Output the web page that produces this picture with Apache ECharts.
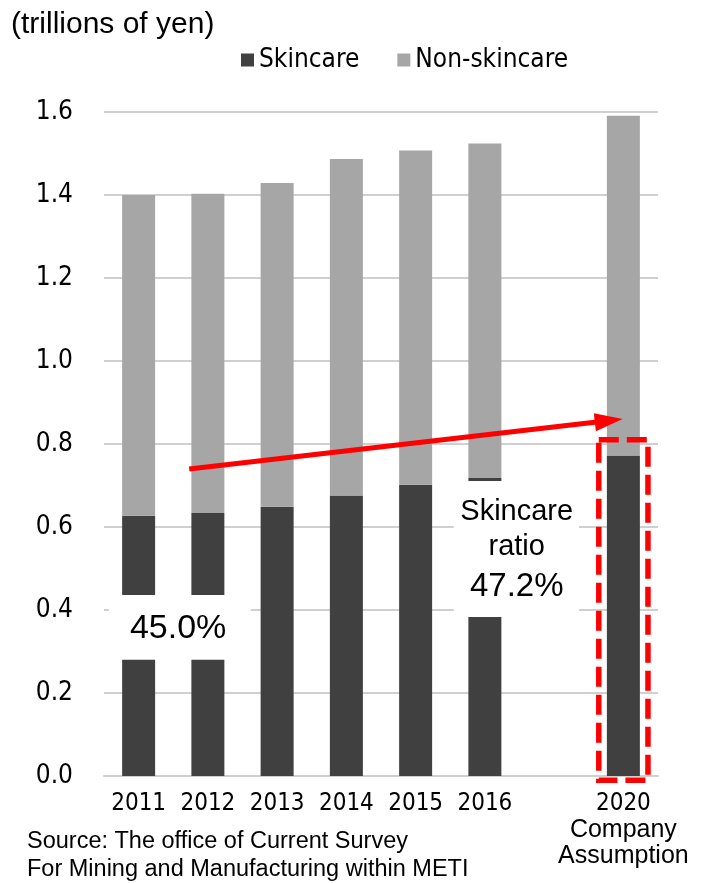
<!DOCTYPE html>
<html>
<head>
<meta charset="utf-8">
<script src="https://cdn.jsdelivr.net/npm/echarts@6/dist/echarts.min.js"></script>
<style>
  html, body { margin: 0; padding: 0; background: #fff; }
  #main { width: 701px; height: 883px; }
</style>
</head>
<body>
<div id="main"></div>
<script>
// data (trillions of yen)
var years = ['2011', '2012', '2013', '2014', '2015', '2016', '', '2020']
var skincare = [0.627, 0.634, 0.649, 0.676, 0.702, 0.718, null, 0.772]
var nonSkincare = [0.773, 0.769, 0.780, 0.811, 0.805, 0.806, null, 0.819]
var yTicks = [0, 0.2, 0.4, 0.6, 0.8, 1.0, 1.2, 1.4, 1.6]

var narrow = "'Liberation Sans Narrow', 'DejaVu Sans Condensed', sans-serif"
var arial = "'Liberation Sans', Arial, sans-serif"

var chart = echarts.init(document.getElementById('main'))

chart.setOption({
  animation: false,
  backgroundColor: '#fff',
  title: {
    text: '(trillions of yen)',
    left: 6,
    top: 5,
    textStyle: { fontFamily: arial, fontSize: 30, fontWeight: 'normal', color: '#000' }
  },
  legend: {
    left: 236,
    top: 42,
    itemWidth: 13,
    itemHeight: 13,
    itemGap: 38,
    icon: 'rect',
    textStyle: { fontFamily: narrow, fontSize: 26, color: '#000' },
    data: ['Skincare', 'Non-skincare']
  },
  grid: { left: 104, right: 43, top: 112, bottom: 107 },
  xAxis: {
    type: 'category',
    data: years,
    axisLine: { lineStyle: { color: '#d0d0d0', width: 2 } },
    axisTick: { show: false },
    axisLabel: {
      margin: 15,
      interval: 0,
      formatter: function (v) {
        if (v === '2020') return '{y|2020}\n{c|Company}\n{c|Assumption}'
        return '{y|' + v + '}'
      },
      rich: {
        y: { fontFamily: narrow, fontSize: 24, lineHeight: 26, color: '#000' },
        c: { fontFamily: arial, fontSize: 25, lineHeight: 26, color: '#000' }
      }
    }
  },
  yAxis: {
    type: 'value',
    min: yTicks[0],
    max: yTicks[yTicks.length - 1],
    interval: 0.2,
    axisLine: { show: false },
    axisTick: { show: false },
    splitLine: { lineStyle: { color: '#d0d0d0', width: 2 } },
    axisLabel: {
      margin: 31,
      fontFamily: narrow,
      fontSize: 26,
      color: '#000',
      formatter: function (v) { return v.toFixed(1) }
    }
  },
  series: [
    {
      name: 'Skincare',
      type: 'bar',
      stack: 'total',
      barWidth: 33,
      itemStyle: { color: '#404040' },
      data: skincare
    },
    {
      name: 'Non-skincare',
      type: 'bar',
      stack: 'total',
      barWidth: 33,
      itemStyle: { color: '#a6a6a6' },
      data: nonSkincare
    }
  ]
})

// 注释: white label boxes, arrow and dashed frame, placed in data units
function pt (c, v) {
  var i = Math.floor(c)
  var a = chart.convertToPixel({ seriesIndex: 0 }, [i, v])
  var b = chart.convertToPixel({ seriesIndex: 0 }, [i + 1, v])
  return [a[0] + (b[0] - a[0]) * (c - i), a[1]]
}

function box (c0, v0, c1, v1) {
  var p0 = pt(c0, v0)
  var p1 = pt(c1, v1)
  return {
    type: 'rect',
    z: 100,
    shape: { x: p0[0], y: p0[1], width: p1[0] - p0[0], height: p1[1] - p0[1] },
    style: { fill: '#fff' }
  }
}

function label (c, v, text, size) {
  var p = pt(c, v)
  return {
    type: 'text',
    z: 101,
    x: p[0],
    y: p[1],
    style: {
      text: text,
      fill: '#000',
      font: size + 'px ' + arial,
      align: 'center',
      verticalAlign: 'middle'
    }
  }
}

var start = pt(0.73, 0.740)
var tip = pt(6.99, 0.860)
var dx = tip[0] - start[0]
var dy = tip[1] - start[1]
var len = Math.sqrt(dx * dx + dy * dy)
var ux = dx / len
var uy = dy / len
var headLen = 28
var headHalf = 9
var base = [tip[0] - ux * headLen, tip[1] - uy * headLen]

var f0 = pt(6.645, 0.81)
var f1 = pt(7.355, -0.01)

chart.setOption({
  graphic: [
    box(-0.43, 0.436, 1.62, 0.280),
    label(0.57, 0.354, '45.0%', 34),
    box(4.55, 0.711, 6.36, 0.383),
    label(5.46, 0.636, 'Skincare', 29),
    label(5.46, 0.551, 'ratio', 29),
    label(5.46, 0.455, '47.2%', 33),
    {
      type: 'line',
      z: 102,
      shape: { x1: start[0], y1: start[1], x2: base[0] + ux * 2, y2: base[1] + uy * 2 },
      style: { stroke: '#ff0000', lineWidth: 5 }
    },
    {
      type: 'polygon',
      z: 102,
      shape: {
        points: [
          tip,
          [base[0] - uy * headHalf, base[1] + ux * headHalf],
          [base[0] + uy * headHalf, base[1] - ux * headHalf]
        ]
      },
      style: { fill: '#ff0000' }
    },
    {
      type: 'rect',
      z: 102,
      shape: { x: f0[0], y: f0[1], width: f1[0] - f0[0], height: f1[1] - f0[1] },
      style: { fill: 'none', stroke: '#ff0000', lineWidth: 5.5, lineDash: [20, 8] }
    },
    {
      type: 'text',
      z: 101,
      left: 27,
      top: 828,
      style: {
        text: 'Source: The office of Current Survey\nFor Mining and Manufacturing within METI',
        fill: '#000',
        font: '23.5px ' + arial,
        lineHeight: 28
      }
    }
  ]
})
</script>
</body>
</html>
